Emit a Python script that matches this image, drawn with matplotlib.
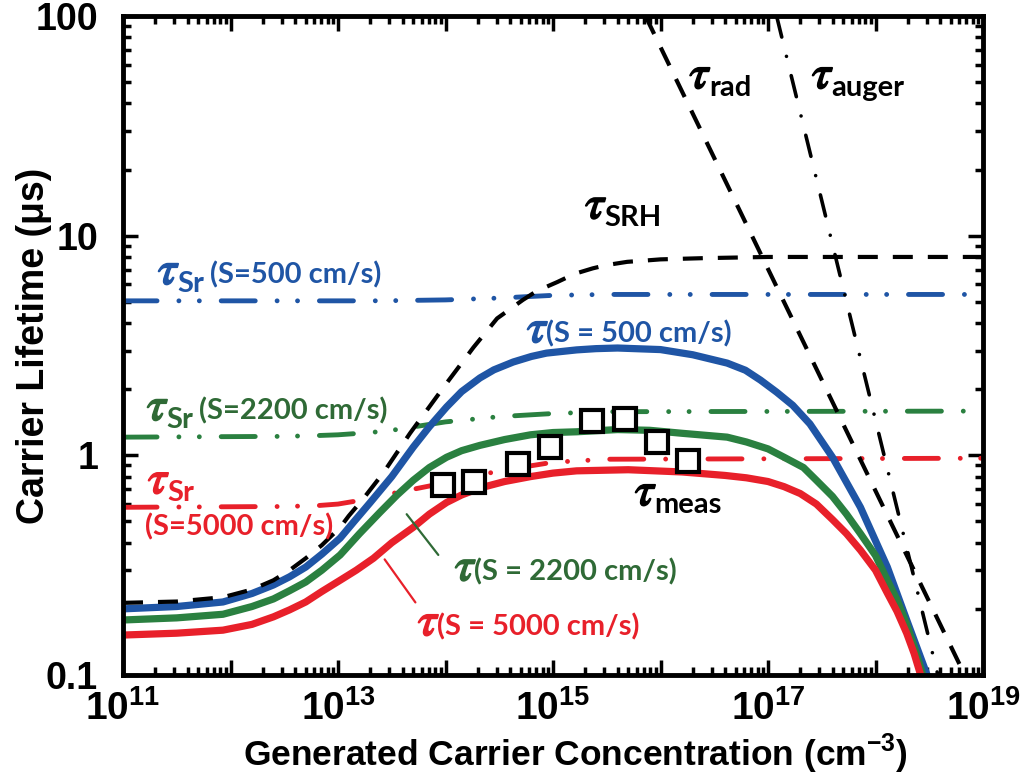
"""
Carrier lifetime versus generated carrier concentration.
"""
import math
import matplotlib
matplotlib.use("Agg")
import matplotlib.pyplot as plt
import matplotlib.patheffects as pe
from matplotlib import font_manager
from matplotlib.ticker import LogLocator, FuncFormatter, NullFormatter, FixedFormatter, FixedLocator
from matplotlib.transforms import offset_copy

_names = {f.name for f in font_manager.fontManager.ttflist}
AXIS_FONT = 'Liberation Sans Narrow' if 'Liberation Sans Narrow' in _names else 'Liberation Sans'
LABEL_FONT = 'Lato'

plt.rcParams['mathtext.fontset'] = 'custom'
plt.rcParams['mathtext.bf'] = AXIS_FONT + ':bold'
plt.rcParams['mathtext.rm'] = AXIS_FONT + ':bold'

BLUE = '#1f55a5'
GREEN = '#2a8040'
GREEN_TXT = '#2f6a36'
RED = '#e8202a'

# --- data (x as log10 of concentration) ---
srh_logn = [11.0, 11.5, 11.93, 12.2, 12.4, 12.55, 12.7, 12.85, 13.02, 13.1, 13.23, 13.42,
            13.67, 14.01, 14.26, 14.48, 14.72, 14.85, 15.04, 15.2, 15.37, 15.5,
            15.69, 15.85, 16.0, 16.2, 16.4, 17.0, 19.0]
srh_tau = [0.213, 0.216, 0.226, 0.245, 0.27, 0.30, 0.34, 0.39, 0.47, 0.53, 0.63, 0.83,
           1.26, 2.13, 3.1, 4.2, 5.1, 5.6, 6.15, 6.7, 7.1, 7.35,
           7.6, 7.7, 7.8, 7.85, 7.9, 8.0, 8.0]

blue_logn = [11.0, 11.5, 11.93, 12.2, 12.4, 12.55, 12.7, 12.85, 13.02, 13.15, 13.3, 13.5,
             13.7, 13.85, 14.01, 14.15, 14.32, 14.45, 14.63, 14.8, 14.94, 15.22, 15.4,
             15.6, 16.0, 16.3, 16.62, 16.79, 16.93, 17.08, 17.23, 17.39, 17.6, 17.86,
             18.11, 18.29, 18.48]
blue_tau = [0.200, 0.205, 0.215, 0.235, 0.257, 0.28, 0.31, 0.355, 0.42, 0.50, 0.61, 0.80,
            1.09, 1.35, 1.66, 1.95, 2.25, 2.45, 2.66, 2.82, 2.92, 3.02, 3.06,
            3.08, 3.03, 2.87, 2.63, 2.44, 2.2, 1.94, 1.69, 1.39, 0.98, 0.58,
            0.31, 0.178, 0.1]

green_logn = [11.0, 11.5, 11.93, 12.2, 12.4, 12.55, 12.7, 12.85, 13.02, 13.2, 13.39, 13.55,
              13.7, 13.85, 14.01, 14.15, 14.32, 14.55, 14.79, 15.0, 15.22, 15.6, 15.9,
              16.2, 16.62, 16.8, 17.0, 17.15, 17.33, 17.45, 17.6, 17.73, 17.86, 18.0,
              18.11, 18.2, 18.29, 18.37, 18.44]
green_tau = [0.178, 0.182, 0.189, 0.205, 0.222, 0.242, 0.265, 0.30, 0.352, 0.44, 0.55, 0.66,
             0.77, 0.88, 0.98, 1.05, 1.11, 1.18, 1.24, 1.27, 1.28, 1.31, 1.30,
             1.26, 1.21, 1.15, 1.07, 0.98, 0.88, 0.77, 0.65, 0.54, 0.44, 0.35,
             0.27, 0.22, 0.17, 0.13, 0.1]

red_logn = [11.0, 11.5, 11.93, 12.2, 12.4, 12.55, 12.7, 12.85, 13.02, 13.17, 13.33, 13.5,
            13.7, 13.85, 14.01, 14.15, 14.32, 14.55, 14.79, 15.0, 15.22, 15.7, 16.2,
            16.6, 16.8, 17.0, 17.15, 17.3, 17.45, 17.6, 17.73, 17.86, 18.0, 18.11,
            18.2, 18.29, 18.36, 18.42]
red_tau = [0.152, 0.155, 0.160, 0.170, 0.184, 0.198, 0.215, 0.24, 0.27, 0.30, 0.34, 0.40,
           0.47, 0.54, 0.61, 0.66, 0.71, 0.76, 0.80, 0.83, 0.85, 0.86, 0.84,
           0.81, 0.79, 0.76, 0.72, 0.67, 0.60, 0.51, 0.44, 0.37, 0.30, 0.236,
           0.195, 0.155, 0.125, 0.1]

sr_logn = [11.0, 12.5, 12.8, 13.0, 13.3, 13.5, 14.0, 14.5, 15.0, 15.5, 19.0]
sr500_tau = [5.05, 5.05, 5.05, 5.05, 5.05, 5.06, 5.1, 5.2, 5.35, 5.4, 5.4]
sr2200_tau = [1.21, 1.22, 1.23, 1.24, 1.27, 1.30, 1.42, 1.50, 1.55, 1.58, 1.59]
sr5000_tau = [0.58, 0.585, 0.59, 0.60, 0.635, 0.67, 0.75, 0.85, 0.93, 0.96, 0.97]

rad_logn = [15.86, 18.83]
rad_tau = [100, 0.1]

auger_logn = [17.08, 18.58]
auger_tau = [100, 0.1]

meas_n = [9.5e13, 1.84e14, 4.7e14, 9.4e14, 2.3e15, 4.7e15, 9.3e15, 1.8e16]
meas_tau = [0.73, 0.755, 0.91, 1.09, 1.43, 1.46, 1.15, 0.94]


def conc(logn):
    return [10 ** v for v in logn]


def tau_label(ax, x, y, sub, rest, color, tau_size=34, sub_size=21, rest_size=21,
              drop=8, gap=0, rest_gap=6):
    fig = ax.figure
    r = fig.canvas.get_renderer()
    t = ax.text(x, y, 'τ', color=color, fontsize=tau_size, family='STIXGeneral',
                style='italic', ha='left', va='baseline',
                path_effects=[pe.withStroke(linewidth=1.3, foreground=color)])
    x0 = ax.transData.transform((x, y))[0]
    dx = t.get_window_extent(r).x1 - x0 + gap
    if sub:
        s = ax.text(x, y, sub, color=color, fontsize=sub_size, fontweight='bold',
                    family=LABEL_FONT, va='baseline', ha='left',
                    transform=offset_copy(ax.transData, fig, x=dx, y=-drop, units='dots'))
        dx = s.get_window_extent(r).x1 - x0 + rest_gap
    if rest:
        ax.text(x, y, rest, color=color, fontsize=rest_size, fontweight='bold',
                family=LABEL_FONT, va='baseline', ha='left',
                transform=offset_copy(ax.transData, fig, x=dx, y=0, units='dots'))


fig = plt.figure(figsize=(10.35, 7.78), dpi=100)
ax = fig.add_axes([123 / 1035, 103 / 778, 860 / 1035, 659 / 778])
ax.set_xscale('log')
ax.set_yscale('log')
ax.set_xlim(1e11, 1e19)
ax.set_ylim(0.1, 100)

sr_dash = dict(lw=3.5, dashes=(7.0, 4.5, 0.001, 4.2, 0.001, 4.5),
               dash_capstyle='round')
ax.plot(conc(sr_logn), sr500_tau, color=BLUE, **sr_dash)
ax.plot(conc(sr_logn), sr2200_tau, color=GREEN, **sr_dash)
ax.plot(conc(sr_logn), sr5000_tau, color=RED, **sr_dash)

ax.plot(conc(blue_logn), blue_tau, color=BLUE, lw=5.2, solid_joinstyle='round')
ax.plot(conc(green_logn), green_tau, color=GREEN, lw=5.2, solid_joinstyle='round')
ax.plot(conc(red_logn), red_tau, color=RED, lw=5.2, solid_joinstyle='round')

ax.plot(conc(srh_logn), srh_tau, color='black', lw=3, dashes=(4.8, 3.6))
ax.plot(conc(rad_logn), rad_tau, color='black', lw=3, dashes=(4.8, 3.6))
ax.plot(conc(auger_logn), auger_tau, color='black', lw=2.6, dashes=(6.0, 5.5, 0.001, 5.5),
        dash_capstyle='round')

ax.plot(meas_n, meas_tau, 's', ms=16.5, mfc='white', mec='black', mew=3, zorder=5)

# axes styling
for sp in ax.spines.values():
    sp.set_linewidth(3.5)
ax.xaxis.set_major_locator(LogLocator(base=10, numticks=20))
ax.xaxis.set_minor_locator(LogLocator(base=10, subs=range(2, 10), numticks=100))


def _xfmt(v, pos):
    e = round(math.log10(v))
    return r'$\mathbf{10^{%d}}$' % e if e % 2 == 1 else ''


ax.xaxis.set_major_formatter(FuncFormatter(_xfmt))
ax.xaxis.set_minor_formatter(NullFormatter())
ax.yaxis.set_major_locator(FixedLocator([0.1, 1, 10, 100]))
ax.yaxis.set_major_formatter(FixedFormatter(['0.1', '1', '10', '100']))
ax.yaxis.set_minor_locator(LogLocator(base=10, subs=range(2, 10), numticks=100))
ax.yaxis.set_minor_formatter(NullFormatter())
ax.tick_params(which='both', direction='in', top=True, right=True, width=2.5)
ax.tick_params(which='major', length=11)
ax.tick_params(which='minor', length=6)
ax.tick_params(axis='x', which='major', pad=11, labelsize=28)
ax.tick_params(axis='y', which='major', pad=18, labelsize=27)
for lab in ax.get_yticklabels():
    lab.set_family(AXIS_FONT)
    lab.set_fontweight('bold')

ax.set_xlabel(r'Generated Carrier Concentration (cm$^{\mathbf{-3}}$)', family=AXIS_FONT,
              fontweight='bold', fontsize=25.5)
ax.xaxis.set_label_coords(0.526, -0.086)
ax.set_ylabel('Carrier Lifetime (μs)', family=AXIS_FONT, fontweight='bold', fontsize=27)
ax.yaxis.set_label_coords(-0.083, 0.5)

# annotations
tau_label(ax, 10**16.27, 47, 'rad', None, 'black')
tau_label(ax, 10**17.41, 47, 'auger', None, 'black')
tau_label(ax, 10**15.30, 12.0, 'SRH', None, 'black')
tau_label(ax, 10**15.763, 0.594, 'meas', None, 'black')
tau_label(ax, 10**11.326, 6.03, 'Sr', '(S=500 cm/s)', BLUE)
tau_label(ax, 10**11.223, 1.45, 'Sr', '(S=2200 cm/s)', GREEN_TXT)
tau_label(ax, 10**11.233, 0.673, 'Sr', None, RED)
ax.text(10**11.205, 0.433, '(S=5000 cm/s)', color=RED, fontsize=21, fontweight='bold',
        family=LABEL_FONT, va='baseline', ha='left')
tau_label(ax, 10**14.758, 3.28, None, '(S = 500 cm/s)', BLUE, rest_gap=9)
tau_label(ax, 10**14.088, 0.270, None, '(S = 2200 cm/s)', GREEN_TXT, rest_gap=9)
tau_label(ax, 10**13.744, 0.152, None, '(S = 5000 cm/s)', RED, rest_gap=9)

ax.annotate('', xy=(10**13.623, 0.552), xytext=(10**13.949, 0.344),
            arrowprops=dict(arrowstyle='-', color=GREEN_TXT, lw=1.6))
ax.annotate('', xy=(10**13.419, 0.344), xytext=(10**13.735, 0.209),
            arrowprops=dict(arrowstyle='-', color=RED, lw=1.6))

fig.savefig('out.png', dpi=100)
